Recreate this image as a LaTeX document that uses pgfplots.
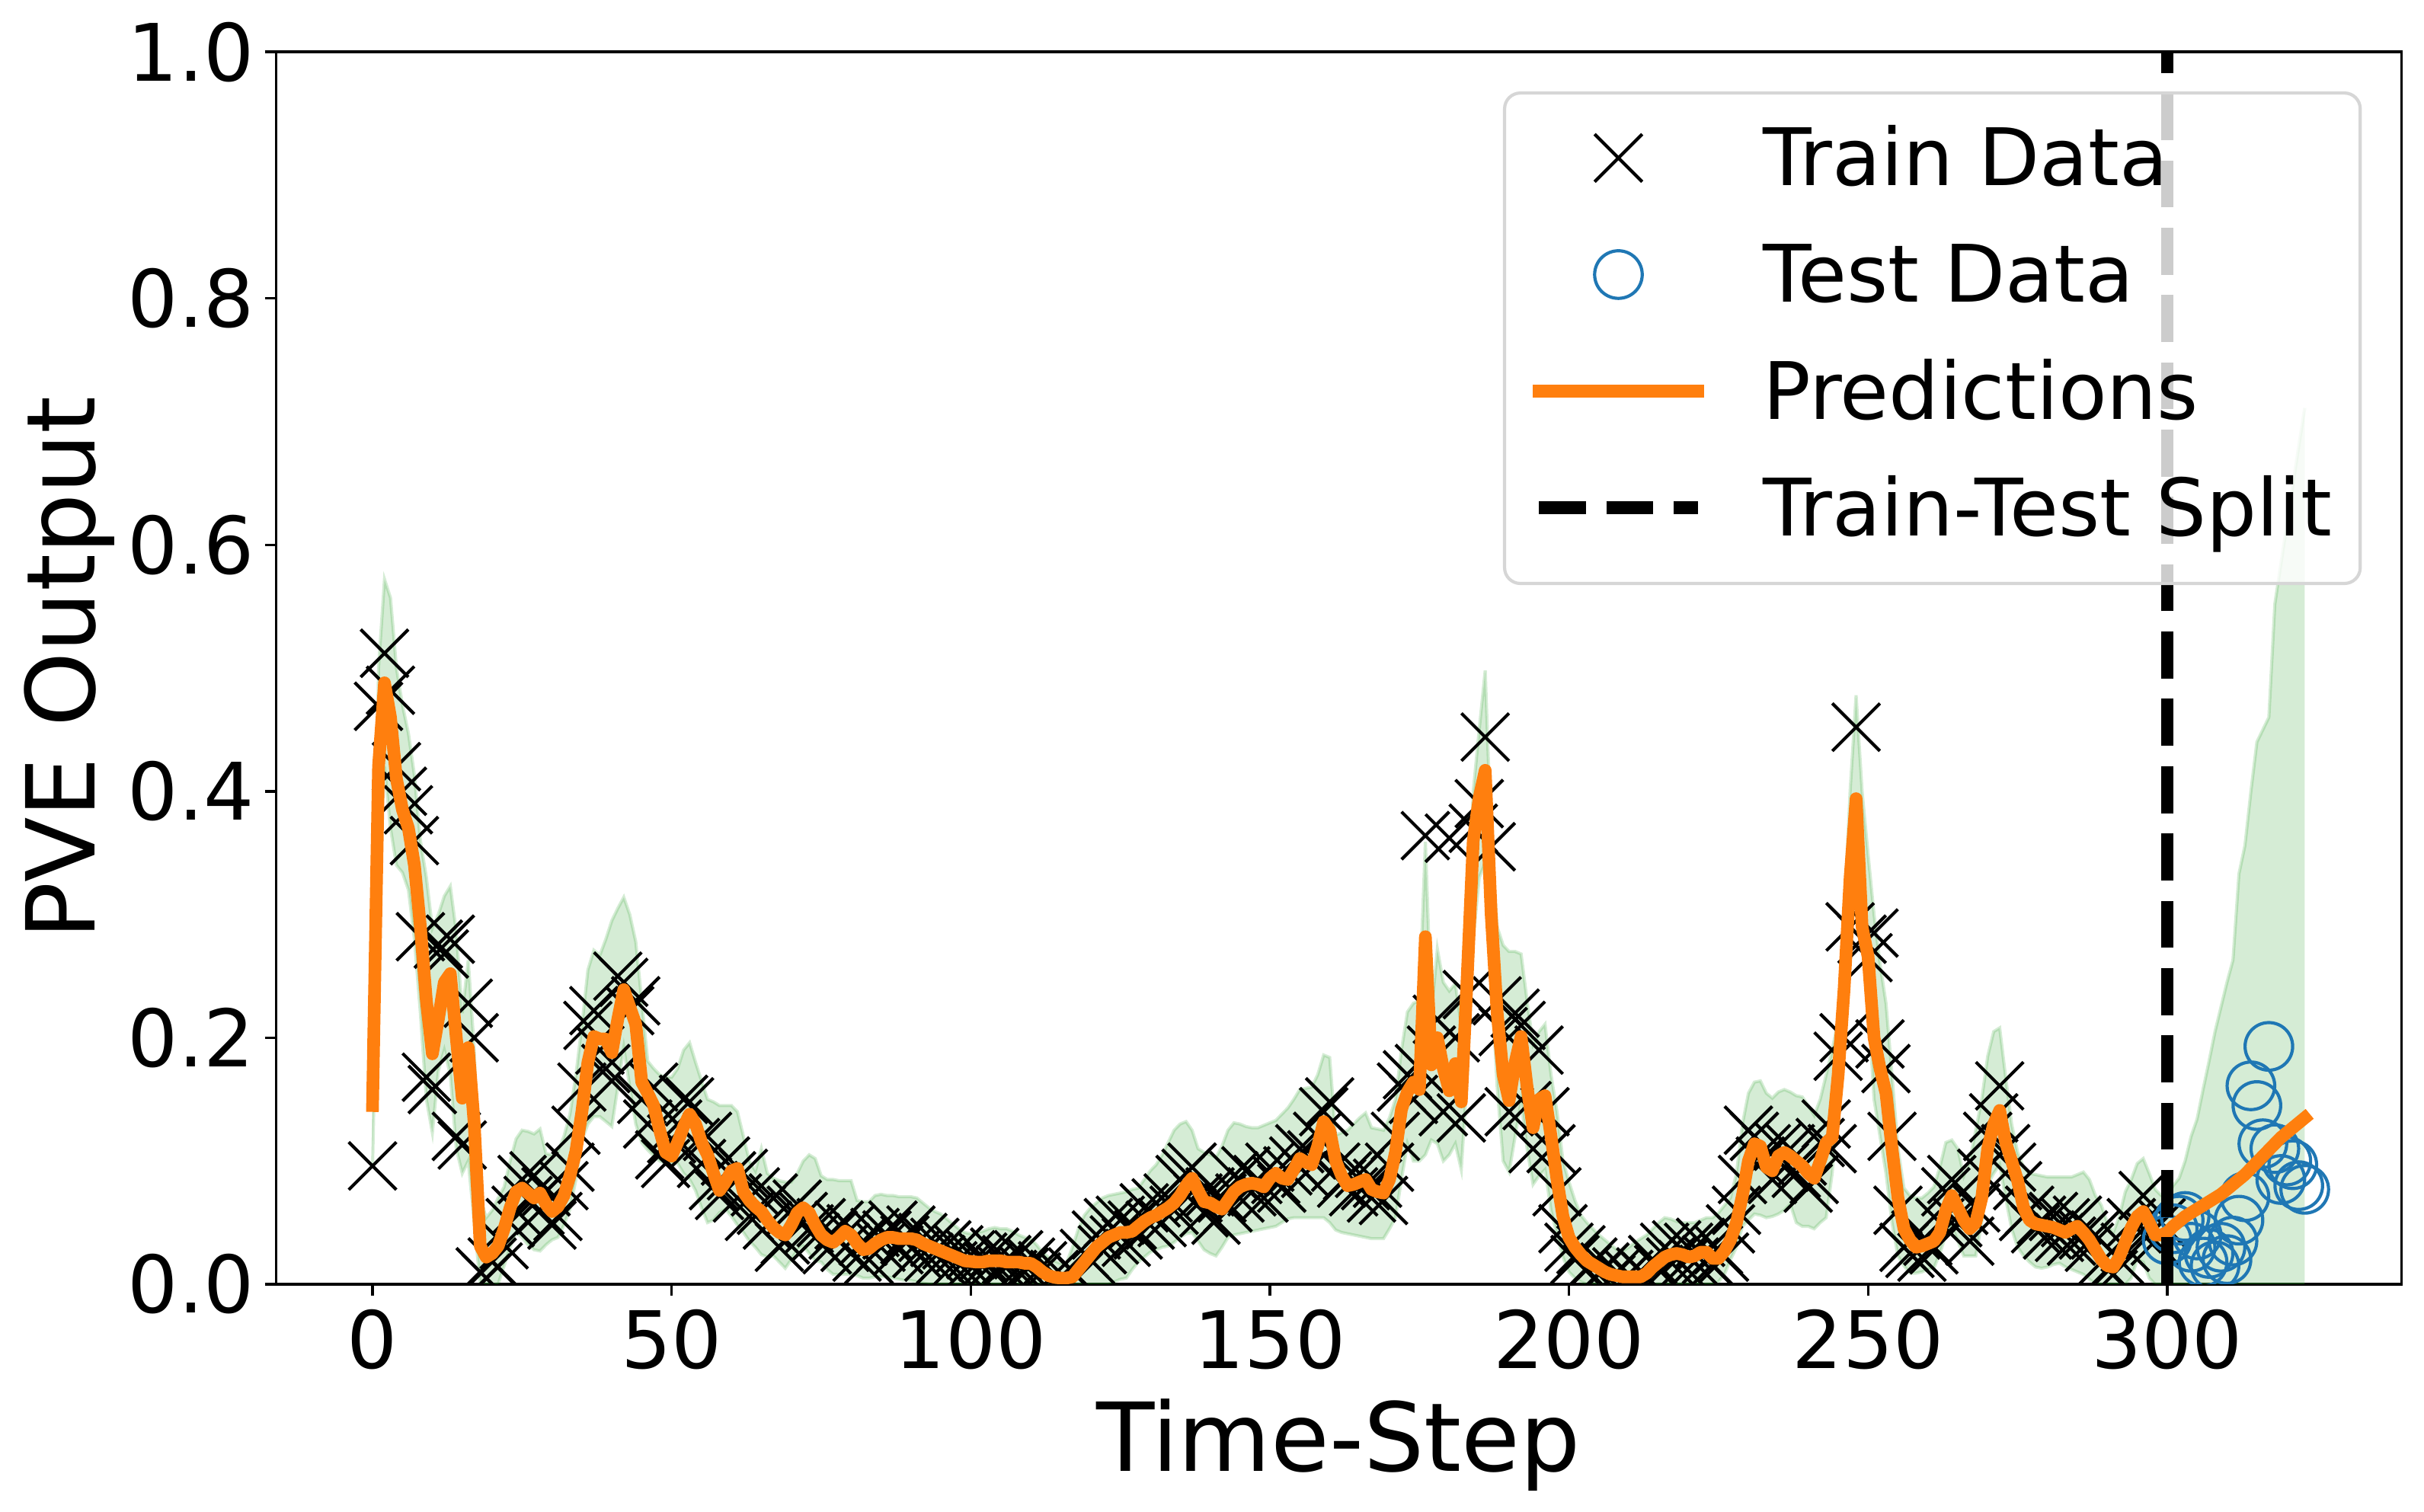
\documentclass[border=0pt]{standalone}
\usepackage{pgfplots}
\usepackage{pgfplotstable}
\pgfplotsset{compat=1.18}
\usepgfplotslibrary{fillbetween}
\usepackage{fontspec}
\setmainfont{DejaVu Sans}
\definecolor{tabblue}{RGB}{31,119,180}
\definecolor{taborange}{RGB}{255,127,14}
\definecolor{tabgreen}{RGB}{44,160,44}
\pgfplotsset{
  legmark/.style={legend image code/.code={\path[draw=none] (0bp,0bp) -- (47.35bp,0bp); \draw[##1,draw=none,mark repeat=2,mark phase=2] plot coordinates {(0bp,1.6bp) (23.67bp,1.6bp) (47.35bp,1.6bp)};}},
  legline/.style={legend image code/.code={\path[draw=none] (0bp,0bp) -- (47.35bp,0bp); \draw[##1] (0bp,1.6bp) -- (47.35bp,1.6bp);}},
}

\pgfplotstableread{
t y
0 0.096
1 0.469
2 0.512
3 0.482
4 0.420
5 0.400
6 0.385
7 0.360
8 0.282
9 0.168
10 0.158
11 0.276
12 0.268
13 0.280
14 0.120
15 0.113
16 0.228
17 0.200
18 0.010
19 0.005
20 0.018
21 0.014
22 0.032
23 0.050
24 0.060
25 0.085
26 0.068
27 0.088
28 0.060
29 0.075
30 0.048
31 0.055
32 0.080
33 0.095
34 0.125
35 0.160
36 0.210
37 0.222
38 0.190
39 0.175
40 0.165
41 0.250
42 0.245
43 0.222
44 0.230
45 0.150
46 0.130
47 0.160
48 0.105
49 0.098
50 0.118
51 0.130
52 0.150
53 0.148
54 0.115
55 0.098
56 0.120
57 0.080
58 0.072
59 0.100
60 0.088
61 0.070
62 0.090
63 0.055
64 0.075
65 0.060
66 0.048
67 0.070
68 0.030
69 0.036
70 0.060
71 0.065
72 0.055
73 0.045
74 0.038
75 0.050
76 0.028
77 0.040
78 0.048
79 0.030
80 0.045
81 0.022
82 0.035
83 0.020
84 0.042
85 0.030
86 0.040
87 0.048
88 0.028
89 0.036
90 0.044
91 0.025
92 0.038
93 0.022
94 0.034
95 0.020
96 0.032
97 0.015
98 0.028
99 0.012
100 0.024
101 0.010
102 0.022
103 0.014
104 0.026
105 0.012
106 0.020
107 0.008
108 0.024
109 0.010
110 0.018
111 0.006
112 0.015
113 0.003
114 0.008
115 0.002
116 0.004
117 0.010
118 0.006
119 0.025
120 0.020
121 0.040
122 0.028
123 0.050
124 0.036
125 0.052
126 0.034
127 0.048
128 0.040
129 0.062
130 0.048
131 0.066
132 0.050
133 0.070
134 0.060
135 0.085
136 0.090
137 0.095
138 0.070
139 0.058
140 0.075
141 0.052
142 0.070
143 0.062
144 0.088
145 0.070
146 0.092
147 0.075
148 0.085
149 0.070
150 0.095
151 0.085
152 0.078
153 0.092
154 0.100
155 0.110
156 0.090
157 0.105
158 0.120
159 0.140
160 0.148
161 0.095
162 0.082
163 0.088
164 0.075
165 0.090
166 0.080
167 0.070
168 0.082
169 0.068
170 0.095
171 0.120
172 0.160
173 0.170
174 0.150
175 0.175
176 0.364
177 0.190
178 0.215
179 0.140
180 0.362
181 0.200
182 0.135
183 0.235
184 0.370
185 0.390
186 0.444
187 0.355
188 0.230
189 0.205
190 0.140
191 0.220
192 0.210
193 0.145
194 0.110
195 0.190
196 0.140
197 0.110
198 0.075
199 0.045
200 0.030
201 0.020
202 0.028
203 0.012
204 0.018
205 0.008
206 0.014
207 0.004
208 0.010
209 0.003
210 0.008
211 0.002
212 0.010
213 0.006
214 0.020
215 0.012
216 0.030
217 0.018
218 0.032
219 0.016
220 0.030
221 0.018
222 0.034
223 0.020
224 0.016
225 0.028
226 0.022
227 0.045
228 0.060
229 0.085
230 0.125
231 0.120
232 0.100
233 0.110
234 0.085
235 0.112
236 0.095
237 0.110
238 0.090
239 0.100
240 0.078
241 0.085
242 0.115
243 0.130
244 0.110
245 0.185
246 0.200
247 0.290
248 0.452
249 0.280
250 0.265
251 0.285
252 0.195
253 0.175
254 0.120
255 0.060
256 0.030
257 0.025
258 0.040
259 0.022
260 0.035
261 0.028
262 0.050
263 0.075
264 0.085
265 0.050
266 0.060
267 0.035
268 0.062
269 0.090
270 0.120
271 0.135
272 0.161
273 0.110
274 0.095
275 0.080
276 0.055
277 0.060
278 0.045
279 0.052
280 0.040
281 0.055
282 0.038
283 0.050
284 0.035
285 0.052
286 0.040
287 0.030
288 0.040
289 0.018
290 0.012
291 0.008
292 0.020
293 0.030
294 0.050
295 0.045
296 0.072
297 0.040
298 0.035
299 0.050
}\traintable

\pgfplotstableread{
t y
300 0.036
301 0.045
302 0.052
303 0.055
304 0.030
305 0.040
306 0.018
307 0.025
308 0.015
309 0.030
310 0.020
311 0.035
312 0.052
313 0.071
314 0.161
315 0.145
316 0.114
317 0.193
318 0.110
319 0.085
320 0.100
321 0.097
322 0.080
323 0.077
}\testtable

\pgfplotstableread{
t p up lo
0 0.145 0.200 0.095
1 0.420 0.500 0.330
2 0.488 0.572 0.420
3 0.460 0.557 0.370
4 0.410 0.500 0.340
5 0.385 0.470 0.334
6 0.370 0.447 0.320
7 0.340 0.413 0.280
8 0.290 0.360 0.220
9 0.230 0.330 0.150
10 0.187 0.289 0.123
11 0.215 0.300 0.173
12 0.245 0.315 0.190
13 0.252 0.323 0.170
14 0.200 0.286 0.110
15 0.151 0.220 0.090
16 0.192 0.263 0.100
17 0.130 0.190 0.050
18 0.031 0.070 0.000
19 0.022 0.054 0.000
20 0.025 0.060 0.000
21 0.031 0.070 0.000
22 0.045 0.079 0.015
23 0.062 0.100 0.030
24 0.075 0.118 0.042
25 0.078 0.125 0.038
26 0.074 0.124 0.032
27 0.070 0.122 0.028
28 0.074 0.126 0.027
29 0.065 0.106 0.032
30 0.059 0.105 0.036
31 0.063 0.108 0.038
32 0.072 0.120 0.048
33 0.088 0.138 0.061
34 0.108 0.170 0.085
35 0.140 0.210 0.117
36 0.180 0.255 0.130
37 0.201 0.271 0.136
38 0.199 0.267 0.136
39 0.199 0.280 0.132
40 0.188 0.295 0.128
41 0.215 0.305 0.160
42 0.239 0.314 0.192
43 0.225 0.300 0.160
44 0.211 0.278 0.130
45 0.164 0.230 0.115
46 0.155 0.181 0.109
47 0.145 0.175 0.104
48 0.125 0.170 0.100
49 0.107 0.168 0.098
50 0.104 0.168 0.098
51 0.115 0.175 0.098
52 0.128 0.190 0.090
53 0.138 0.196 0.085
54 0.130 0.180 0.076
55 0.115 0.165 0.062
56 0.105 0.150 0.050
57 0.090 0.148 0.052
58 0.076 0.145 0.058
59 0.083 0.145 0.061
60 0.092 0.145 0.055
61 0.094 0.140 0.048
62 0.075 0.120 0.042
63 0.068 0.100 0.035
64 0.063 0.092 0.030
65 0.059 0.110 0.024
66 0.052 0.090 0.022
67 0.046 0.086 0.023
68 0.042 0.084 0.018
69 0.040 0.083 0.013
70 0.048 0.083 0.020
71 0.058 0.090 0.028
72 0.062 0.100 0.031
73 0.058 0.105 0.025
74 0.048 0.102 0.019
75 0.040 0.088 0.018
76 0.036 0.085 0.012
77 0.034 0.085 0.008
78 0.038 0.084 0.008
79 0.043 0.084 0.008
80 0.040 0.084 0.008
81 0.033 0.068 0.007
82 0.028 0.067 0.005
83 0.029 0.067 0.005
84 0.033 0.072 0.006
85 0.036 0.073 0.006
86 0.038 0.072 0.006
87 0.038 0.072 0.005
88 0.037 0.071 0.004
89 0.037 0.071 0.003
90 0.037 0.071 0.003
91 0.036 0.070 0.002
92 0.033 0.066 0.001
93 0.031 0.062 0.000
94 0.029 0.059 0.000
95 0.027 0.057 0.000
96 0.025 0.053 0.000
97 0.023 0.049 0.000
98 0.021 0.045 0.000
99 0.019 0.042 0.000
100 0.0185 0.041 0.000
101 0.018 0.042 0.000
102 0.018 0.043 0.000
103 0.019 0.045 0.000
104 0.019 0.046 0.000
105 0.019 0.045 0.000
106 0.018 0.045 0.000
107 0.018 0.043 0.000
108 0.018 0.040 0.000
109 0.017 0.038 0.000
110 0.017 0.037 0.000
111 0.014 0.032 0.000
112 0.010 0.026 0.000
113 0.007 0.022 0.000
114 0.0056 0.019 0.000
115 0.005 0.017 0.000
116 0.005 0.017 0.000
117 0.006 0.030 0.000
118 0.012 0.045 0.000
119 0.018 0.056 0.000
120 0.024 0.062 0.000
121 0.030 0.066 0.000
122 0.034 0.070 0.000
123 0.038 0.072 0.000
124 0.040 0.073 0.002
125 0.042 0.074 0.004
126 0.042 0.075 0.005
127 0.043 0.077 0.012
128 0.047 0.078 0.018
129 0.051 0.085 0.022
130 0.054 0.092 0.026
131 0.056 0.097 0.028
132 0.059 0.105 0.030
133 0.062 0.115 0.031
134 0.066 0.125 0.034
135 0.072 0.130 0.038
136 0.080 0.132 0.041
137 0.086 0.125 0.042
138 0.076 0.110 0.035
139 0.067 0.107 0.028
140 0.066 0.105 0.025
141 0.063 0.103 0.023
142 0.061 0.112 0.030
143 0.068 0.125 0.038
144 0.075 0.131 0.040
145 0.079 0.130 0.041
146 0.081 0.128 0.042
147 0.082 0.127 0.043
148 0.081 0.127 0.044
149 0.079 0.129 0.045
150 0.086 0.131 0.046
151 0.090 0.133 0.047
152 0.086 0.138 0.050
153 0.085 0.143 0.053
154 0.093 0.150 0.054
155 0.102 0.158 0.054
156 0.099 0.159 0.054
157 0.097 0.160 0.054
158 0.112 0.170 0.054
159 0.132 0.186 0.054
160 0.125 0.184 0.050
161 0.100 0.121 0.044
162 0.088 0.123 0.042
163 0.080 0.125 0.041
164 0.081 0.130 0.040
165 0.083 0.135 0.039
166 0.085 0.139 0.038
167 0.077 0.127 0.037
168 0.075 0.126 0.037
169 0.074 0.125 0.037
170 0.085 0.135 0.045
171 0.107 0.150 0.054
172 0.142 0.190 0.085
173 0.156 0.221 0.114
174 0.164 0.228 0.100
175 0.158 0.230 0.100
176 0.282 0.359 0.105
177 0.178 0.220 0.117
178 0.200 0.272 0.114
179 0.175 0.245 0.100
180 0.157 0.238 0.105
181 0.179 0.244 0.114
182 0.148 0.210 0.093
183 0.250 0.290 0.170
184 0.360 0.400 0.280
185 0.395 0.450 0.330
186 0.417 0.498 0.342
187 0.300 0.360 0.250
188 0.220 0.290 0.160
189 0.170 0.275 0.100
190 0.149 0.270 0.091
191 0.180 0.270 0.120
192 0.201 0.268 0.148
193 0.160 0.230 0.110
194 0.127 0.195 0.081
195 0.150 0.205 0.088
196 0.153 0.211 0.093
197 0.120 0.170 0.060
198 0.085 0.140 0.040
199 0.055 0.100 0.022
200 0.038 0.083 0.010
201 0.030 0.068 0.005
202 0.024 0.056 0.002
203 0.019 0.050 0.000
204 0.016 0.045 0.000
205 0.013 0.040 0.000
206 0.010 0.036 0.000
207 0.008 0.032 0.000
208 0.007 0.028 0.000
209 0.006 0.027 0.000
210 0.006 0.030 0.000
211 0.006 0.034 0.000
212 0.006 0.037 0.000
213 0.009 0.040 0.000
214 0.014 0.045 0.000
215 0.018 0.050 0.000
216 0.022 0.054 0.000
217 0.024 0.053 0.000
218 0.025 0.051 0.000
219 0.024 0.050 0.000
220 0.022 0.050 0.000
221 0.023 0.050 0.000
222 0.026 0.052 0.000
223 0.026 0.054 0.000
224 0.021 0.054 0.000
225 0.021 0.058 0.002
226 0.027 0.064 0.008
227 0.036 0.070 0.020
228 0.050 0.090 0.030
229 0.072 0.130 0.047
230 0.100 0.155 0.052
231 0.114 0.164 0.057
232 0.112 0.165 0.056
233 0.095 0.155 0.054
234 0.092 0.151 0.055
235 0.104 0.156 0.057
236 0.107 0.158 0.060
237 0.104 0.156 0.065
238 0.100 0.153 0.050
239 0.096 0.152 0.047
240 0.090 0.145 0.047
241 0.086 0.137 0.045
242 0.100 0.150 0.050
243 0.115 0.170 0.054
244 0.119 0.190 0.090
245 0.170 0.214 0.148
246 0.240 0.300 0.210
247 0.330 0.400 0.282
248 0.394 0.478 0.315
249 0.290 0.400 0.282
250 0.266 0.349 0.230
251 0.200 0.300 0.150
252 0.175 0.260 0.120
253 0.155 0.228 0.090
254 0.110 0.170 0.050
255 0.070 0.110 0.023
256 0.045 0.078 0.015
257 0.036 0.072 0.009
258 0.030 0.070 0.009
259 0.031 0.070 0.010
260 0.033 0.074 0.012
261 0.035 0.079 0.013
262 0.042 0.095 0.025
263 0.060 0.115 0.040
264 0.072 0.117 0.047
265 0.062 0.110 0.035
266 0.052 0.088 0.023
267 0.045 0.100 0.023
268 0.050 0.125 0.023
269 0.070 0.150 0.050
270 0.110 0.185 0.081
271 0.130 0.205 0.090
272 0.141 0.208 0.097
273 0.115 0.168 0.070
274 0.100 0.130 0.045
275 0.084 0.107 0.030
276 0.062 0.095 0.023
277 0.052 0.090 0.018
278 0.049 0.089 0.014
279 0.048 0.088 0.013
280 0.047 0.087 0.014
281 0.046 0.087 0.016
282 0.044 0.087 0.017
283 0.042 0.087 0.014
284 0.045 0.087 0.012
285 0.047 0.089 0.010
286 0.042 0.091 0.008
287 0.036 0.085 0.004
288 0.028 0.072 0.000
289 0.020 0.064 0.000
290 0.015 0.050 0.000
291 0.014 0.042 0.000
292 0.022 0.055 0.000
293 0.034 0.075 0.000
294 0.046 0.085 0.005
295 0.055 0.098 0.020
296 0.059 0.102 0.018
297 0.050 0.090 0.005
298 0.040 0.077 0.000
299 0.040 0.072 0.000
300 0.042 0.070 0.000
301 0.047 0.080 0.000
302 0.051 0.086 0.000
303 0.055 0.100 0.000
304 0.058 0.120 0.000
305 0.061 0.134 0.000
306 0.064 0.158 0.000
307 0.067 0.181 0.000
308 0.070 0.205 0.000
309 0.073 0.225 0.000
310 0.077 0.245 0.000
311 0.081 0.263 0.000
312 0.085 0.333 0.000
313 0.089 0.356 0.000
314 0.094 0.400 0.000
315 0.099 0.440 0.000
316 0.104 0.450 0.000
317 0.109 0.460 0.000
318 0.114 0.552 0.000
319 0.119 0.584 0.000
320 0.123 0.616 0.000
321 0.127 0.648 0.000
322 0.131 0.680 0.000
323 0.135 0.711 0.000
}\predtable

\begin{document}
\begin{tikzpicture}
\begin{axis}[
  at={(82.32bp,67.73bp)}, anchor=south west,
  scale only axis, width=634.1bp, height=367.7bp,
  xmin=-16.15, xmax=339.15, ymin=0, ymax=1,
  xtick={0,50,100,150,200,250,300},
  ytick={0,0.2,0.4,0.6,0.8,1.0},
  yticklabel={\pgfmathprintnumber[fixed,fixed zerofill,precision=1]{\tick}},
  /pgf/number format/assume math mode=true,
  tick pos=left, tick align=outside,
  major tick length=3.31bp,
  every tick/.style={black, line width=0.76bp},
  axis line style={line width=0.76bp},
  ticklabel style={font=\fontsize{23.67bp}{28bp}\selectfont, inner sep=0pt},
  xticklabel style={anchor=base, yshift=-21.9bp},
  yticklabel style={anchor=east, xshift=-3.0bp},
  xlabel={Time-Step}, ylabel={PVE Output},
  label style={font=\fontsize{28.4bp}{34bp}\selectfont, inner sep=0pt},
  xlabel style={at={(axis description cs:0.5,-0.1515)}, anchor=base},
  ylabel style={at={(axis description cs:-0.0852,0.5)}, anchor=base},
  clip marker paths=true,
  legend cell align=left,
  legend style={
    at={(rel axis cs:1,1)}, anchor=north east, xshift=-11.8bp, yshift=-11.8bp,
    draw=black!16, line width=0.95bp, rounded corners=4.7bp,
    fill=white, fill opacity=0.8, text opacity=1,
    inner xsep=8.4bp, inner ysep=9.47bp,
    row sep=11.8bp, column sep=17.55bp,
    font=\fontsize{23.67bp}{28bp}\selectfont,
    nodes={inner sep=0pt, text height=18.2bp, text depth=4.8bp},
  },
]
\addplot[name path=U, draw=tabgreen, draw opacity=0.2, line width=0.95bp, forget plot] table[x=t, y=up] {\predtable};
\addplot[name path=L, draw=tabgreen, draw opacity=0.2, line width=0.95bp, forget plot] table[x=t, y=lo] {\predtable};
\addplot[fill=tabgreen, fill opacity=0.2, draw=none, forget plot] fill between[of=U and L];

\addplot[only marks, mark=x, mark size=10.04bp, mark options={black, line width=0.95bp}, legmark]
  table[x=t, y=y] {\traintable};
\addlegendentry{Train Data}

\addplot[only marks, mark=o, mark size=7.1bp, mark options={draw=tabblue, fill=none, line width=0.95bp}, legmark]
  table[x=t, y=y] {\testtable};
\addlegendentry{Test Data}

\addplot[taborange, line width=3.79bp, line join=round, line cap=rect, no marks, legline]
  table[x=t, y=p] {\predtable};
\addlegendentry{Predictions}

\addplot[black, line width=3.79bp, dash pattern=on 14.02bp off 6.06bp, no marks, legline]
  coordinates {(300,0) (300,1)};
\addlegendentry{Train-Test Split}
\end{axis}
\pgfresetboundingbox
\useasboundingbox (0,0) rectangle (723.18bp,450.91bp);
\end{tikzpicture}
\end{document}
